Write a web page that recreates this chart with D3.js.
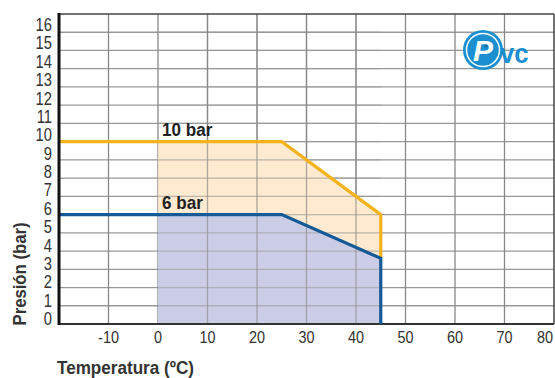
<!DOCTYPE html>
<html><head><meta charset="utf-8">
<script src="https://cdn.jsdelivr.net/npm/d3@7"></script>
<style>body{margin:0;background:#fff}svg{display:block}text{font-family:"Liberation Sans",Arial,sans-serif}</style>
</head><body><svg id="c" width="555" height="378"></svg>
<script>
const xTicks = [-10, 0, 10, 20, 30, 40, 50, 60, 70, 80];
const yTicks = [0,1,2,3,4,5,6,7,8,9,10,11,12,13,14,15,16];
const temp10 = [-20, 0, 25, 45];
const pres10 = [10, 10, 10, 6];
const temp6 = [-20, 0, 25, 45];
const pres6 = [6, 6, 6, 3.6];
const seriesLabels = ["10 bar", "6 bar"];

const svg = d3.select("#c");
const x = d3.scaleLinear().domain([-20, 80]).range([59, 554]);
const y = d3.scaleLinear().domain([0, 17]).range([324, 14]);
const yl = d3.scaleLinear().domain([0, 16]).range([325, 31]); // tick label baselines

function ctext(g, px, py, str, sx, opts) {
  const t = g.append("text").attr("transform", `translate(${px},${py}) scale(${sx},1)`).text(str);
  for (const k in opts) t.attr(k, opts[k]);
  return t;
}

// grid
svg.append("g").selectAll("line").data(yTicks.filter(d=>d>0)).join("line")
  .attr("x1", x(-20)).attr("x2", x(80)).attr("y1", d=>y(d)).attr("y2", d=>y(d))
  .attr("stroke", "#999").attr("stroke-width", 1.3);
svg.append("g").selectAll("line").data(xTicks.filter(d=>d<80)).join("line")
  .attr("x1", d=>x(d)).attr("x2", d=>x(d)).attr("y1", y(0)).attr("y2", y(17))
  .attr("stroke", "#888").attr("stroke-width", 1.3);

// fills
const p10 = temp10.map((t,i)=>[t,pres10[i]]);
const p6 = temp6.map((t,i)=>[t,pres6[i]]);
const area = d3.area().x(d=>x(d[0])).y0(y(0)).y1(d=>y(d[1]));
svg.append("path").datum(p10.filter(d=>d[0]>=0)).attr("d", area).attr("fill", "#fde6c8").attr("opacity", 0.85);
svg.append("path").datum(p6.filter(d=>d[0]>=0)).attr("d", area).attr("fill", "#c5c9e8").attr("opacity", 0.9);

// grid faintly over fills
svg.append("g").selectAll("line").data(yTicks.filter(d=>d>0)).join("line")
  .attr("x1", x(0)).attr("x2", x(45)).attr("y1", d=>y(d)).attr("y2", d=>y(d))
  .attr("stroke", "#999").attr("stroke-width", 1.3).attr("opacity", 0.55);
svg.append("g").selectAll("line").data([10,20,30,40]).join("line")
  .attr("x1", d=>x(d)).attr("x2", d=>x(d)).attr("y1", y(0)).attr("y2", y(17))
  .attr("stroke", "#888").attr("stroke-width", 1.3).attr("opacity", 0.6);

// border
svg.append("line").attr("x1", x(-20)).attr("x2", x(80)).attr("y1", y(17)).attr("y2", y(17)).attr("stroke", "#444").attr("stroke-width", 1.5);
svg.append("line").attr("x1", x(80)).attr("x2", x(80)).attr("y1", y(17)).attr("y2", y(0)).attr("stroke", "#444").attr("stroke-width", 1.5);
svg.append("line").attr("x1", x(-20)).attr("x2", x(80)).attr("y1", y(0)).attr("y2", y(0)).attr("stroke", "#333").attr("stroke-width", 1.8);

// lines
const line = d3.line().x(d=>x(d[0])).y(d=>y(d[1]));
svg.append("path").datum([...p10, [45, pres6[3]]]).attr("d", line).attr("fill","none").attr("stroke","#f4b21c").attr("stroke-width",3.2);
svg.append("path").datum([...p6, [45, 0]]).attr("d", line).attr("fill","none").attr("stroke","#155a97").attr("stroke-width",3.2);

// left axis
svg.append("line").attr("x1", x(-20)).attr("x2", x(-20)).attr("y1", y(17)-1).attr("y2", y(0)+1).attr("stroke", "#111").attr("stroke-width", 3);

// tick labels
const gy = svg.append("g");
yTicks.forEach(d => ctext(gy, 52, yl(d), d, 0.82, {"text-anchor":"end","font-size":18,"fill":"#333"}));
const gx = svg.append("g");
xTicks.forEach(d => ctext(gx, d === 80 ? 553 : x(d), 343, d, 0.85, {"text-anchor": d === 80 ? "end" : "middle","font-size":17,"fill":"#333"}));

// series labels
ctext(svg, 162, y(10)-6, seriesLabels[0], 0.9, {"font-size":19,"font-weight":"bold","fill":"#222"});
ctext(svg, 162, y(6)-6, seriesLabels[1], 0.9, {"font-size":19,"font-weight":"bold","fill":"#222"});

// axis titles
svg.append("text").attr("transform","translate(26,274) rotate(-90) scale(0.88,1)").attr("text-anchor","middle")
  .attr("font-size", 19).attr("font-weight","bold").attr("fill","#333").text("Presión (bar)");
ctext(svg, 57, 374, "Temperatura (ºC)", 0.9, {"font-size":19,"font-weight":"bold","fill":"#333"});

// logo
const lg = svg.append("g");
lg.append("circle").attr("cx", 483).attr("cy", 50).attr("r", 20).attr("fill", "#1b8fd0");
lg.append("circle").attr("cx", 483).attr("cy", 50).attr("r", 16.5).attr("fill", "none").attr("stroke", "#fff").attr("stroke-width", 1.5);
lg.append("text").attr("x", 483).attr("y", 61).attr("text-anchor","middle").attr("font-size", 30).attr("font-weight","bold").attr("font-style","italic").attr("fill","#fff").text("P");
lg.append("circle").attr("cx", 486).attr("cy", 46).attr("r", 1.8).attr("fill", "#1b6fa8");
ctext(lg, 500, 63, "vc", 0.95, {"font-size":27,"font-weight":"bold","fill":"#1b8fd0"});
</script></body></html>
